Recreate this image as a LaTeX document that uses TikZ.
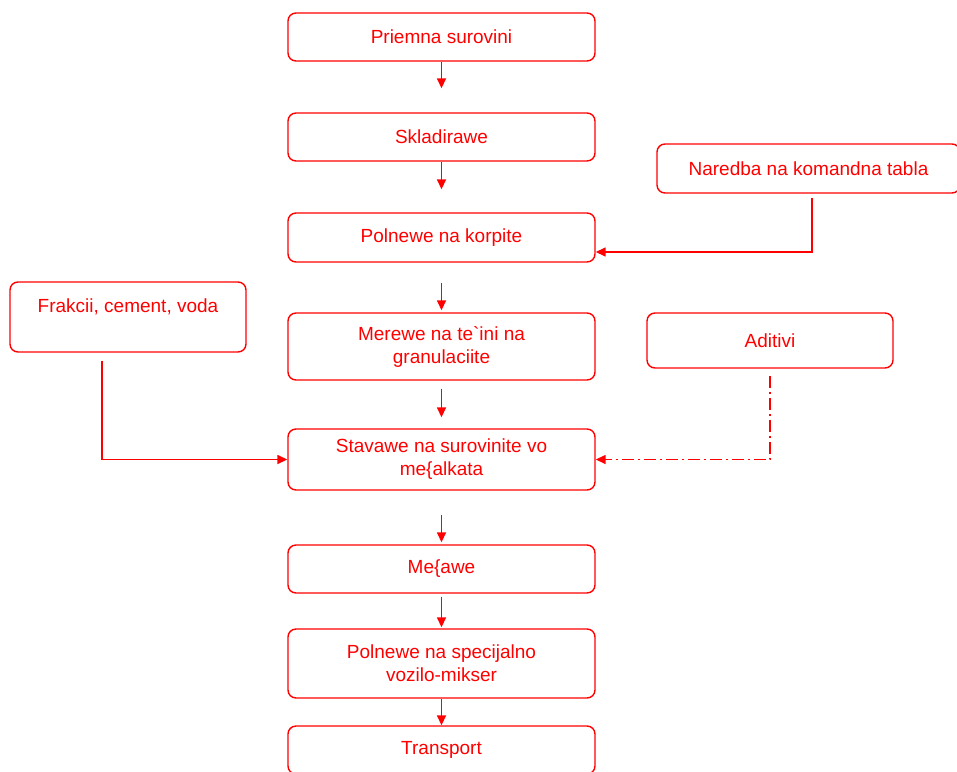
\documentclass[tikz,border=0pt]{standalone}
\usepackage{fontspec}
\setmainfont{Liberation Sans}
\usetikzlibrary{arrows.meta}
\tikzset{
  box/.style={draw=red, line width=1.4pt, rounded corners=8pt, text=red, align=center,
    minimum width=307pt, inner sep=0pt, font=\fontsize{19}{23}\selectfont},
  arr/.style={draw=red, line width=1.5pt, -{Triangle[length=10pt,width=9pt]}},
  dashdot/.style={dash pattern=on 12pt off 4pt on 2pt off 4pt},
}
\begin{document}
\begin{tikzpicture}[x=1pt,y=-1pt]
        \useasboundingbox (0,0) rectangle (957,771);
        \clip (0,0) rectangle (957,771);
        \node[box, minimum height=48pt] (prie) at (441.5,37) {Priemna surovini};
        \node[box, minimum height=48pt] (skl) at (441.5,137) {Skladirawe};
        \node[box, minimum height=49pt] (poln) at (441.5,237.5) {Polnewe na korpite};
        \node[box, minimum height=67pt] (mer) at (441.5,346.5) {Merewe na te\textasciigrave ini na\\granulaciite};
        \node[box, minimum height=61pt] (stav) at (441.5,459.5) {Stavawe na surovinite vo\\me\{alkata};
        \node[box, minimum height=48pt] (mes) at (441.5,569) {Me\{awe};
        \node[box, minimum height=69pt] (vozi) at (441.5,663.5) {Polnewe na specijalno\\vozilo-mikser};
        \node[box, minimum height=48pt] (tran) at (441.5,750) {Transport};
        \node[box, minimum width=303pt, minimum height=49pt] (nar) at (808.5,168.5) {Naredba na komandna tabla};
        \node[box, minimum width=236pt, minimum height=70pt] (frak) at (128,317) {Frakcii, cement, voda\\\mbox{}};
        \node[box, minimum width=246pt, minimum height=55pt] (adi) at (770,340.5) {Aditivi};
        \draw[arr, shorten >=24pt] (prie) -- (skl);
        \draw[arr, shorten >=23pt] (skl) -- (poln);
        \draw[arr, shorten <=20pt, shorten >=2pt] (poln) -- (mer);
        \draw[arr, shorten <=8pt, shorten >=11pt] (mer) -- (stav);
        \draw[arr, shorten <=24pt, shorten >=2pt] (stav) -- (mes);
        \draw[arr, shorten <=3pt, shorten >=1pt] (mes) -- (vozi);
        \draw[arr] (vozi) -- (tran);
        \draw[arr] ([xshift=3.5pt,yshift=-4pt]nar.south) |- ([yshift=-14.5pt]poln.east);
        \draw[arr] ([xshift=-26pt,yshift=-8pt]frak.south) |- (stav.west);
        \draw[arr, dashdot] ([yshift=-7pt]adi.south) |- (stav.east);
\end{tikzpicture}
\end{document}
